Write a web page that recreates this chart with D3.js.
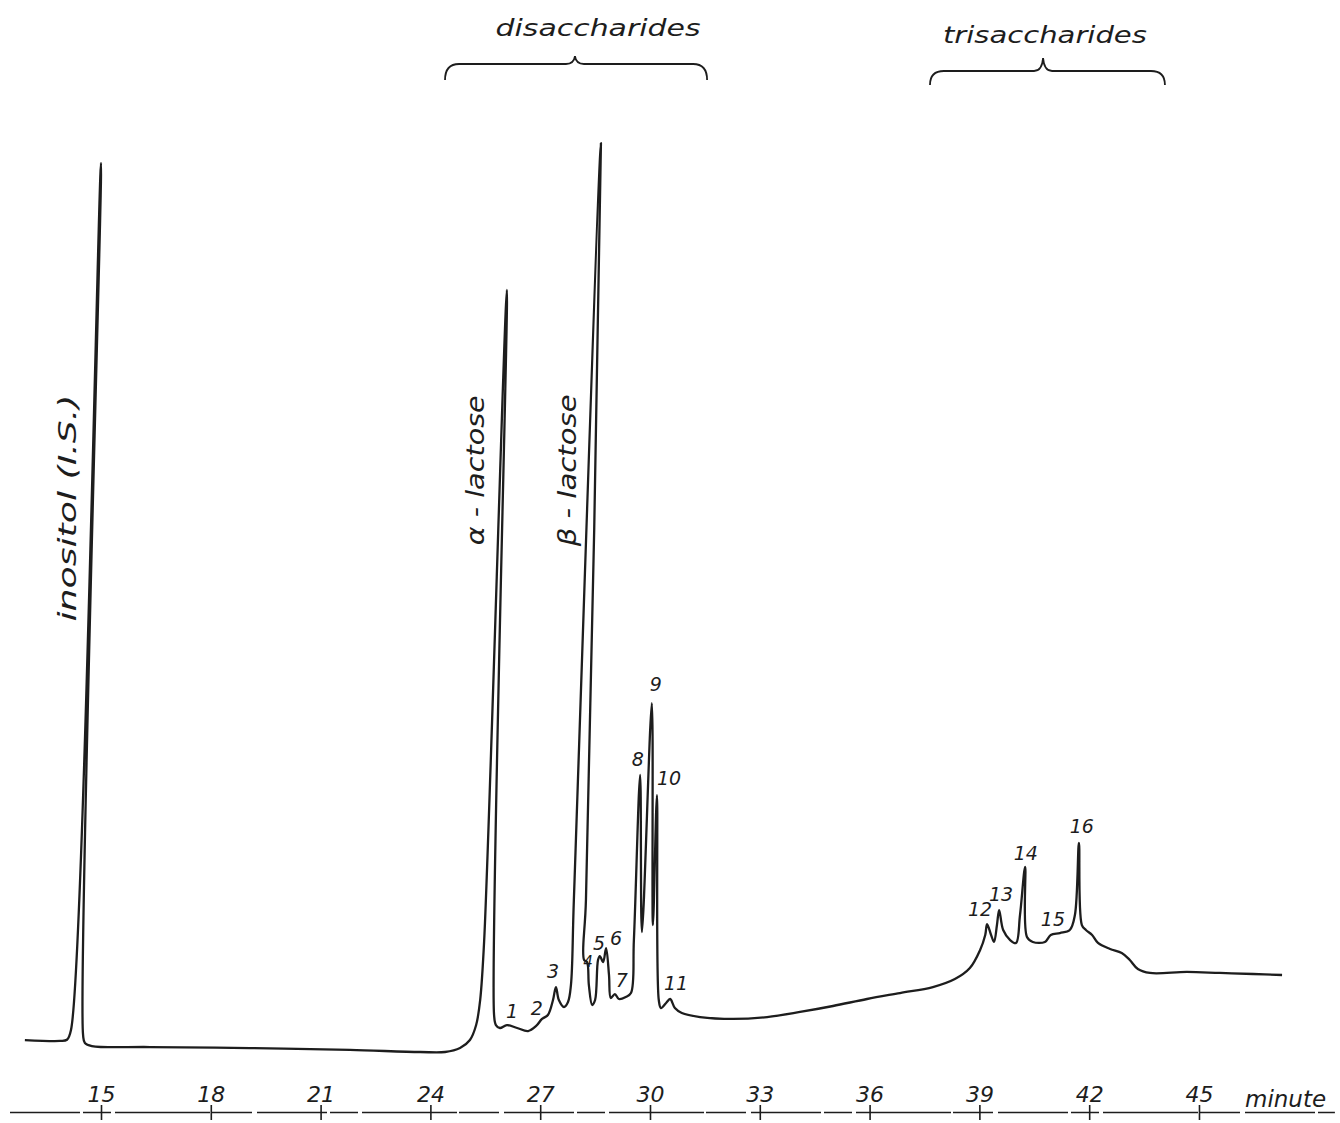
<!DOCTYPE html>
<html>
<head>
<meta charset="utf-8">
<script src="https://cdn.jsdelivr.net/npm/d3@7"></script>
<style>
  html, body { margin: 0; padding: 0; background: #fff; }
  svg text { font-family: "DejaVu Sans", sans-serif; font-style: italic; fill: #1d1d1d; }
</style>
</head>
<body>
<div id="chart"></div>
<script>
// detector trace (minutes vs. arbitrary response)
const traceTime = [
  12.92, 13.88, 14.07, 14.18, 15.0, 14.51, 14.56, 14.75, 16.34, 19.07, 21.8, 23.72,
  24.4, 24.81, 25.08, 25.25, 25.36, 25.47, 26.09, 25.74, 25.79, 25.9, 26.09, 26.37,
  26.67, 26.89, 27.05, 27.21, 27.35, 27.43, 27.51, 27.65, 27.76, 27.84, 27.92, 28.66,
  28.25, 28.2, 28.28, 28.33, 28.42, 28.5, 28.58, 28.63, 28.72, 28.8, 28.88, 28.93,
  29.04, 29.15, 29.34, 29.48, 29.56, 29.73, 29.78, 30.05, 30.08, 30.19, 30.24, 30.3,
  30.44, 30.55, 30.68, 30.87, 31.37, 32.27, 33.2, 34.1, 35.0, 35.93, 36.83, 37.73,
  38.33, 38.74, 39.02, 39.16, 39.21, 39.32, 39.4, 39.48, 39.54, 39.65, 39.84, 40.0,
  40.11, 40.25, 40.3, 40.46, 40.79, 40.95, 41.2, 41.47, 41.61, 41.72, 41.8, 41.91,
  42.08, 42.24, 42.57, 42.89, 43.11, 43.33, 43.66, 44.67, 45.57, 46.48, 47.27
]
const traceSignal = [
  2.17, 2.07, 2.2, 3.26, 97.5, 2.72, 1.85, 1.52, 1.41, 1.3, 1.09, 0.87,
  0.87, 1.3, 2.17, 3.8, 6.52, 13.04, 83.7, 4.89, 3.8, 3.48, 3.8, 3.48,
  3.15, 3.7, 4.46, 4.89, 6.52, 7.93, 6.52, 5.76, 6.3, 8.15, 17.39, 99.67,
  17.39, 10.87, 10.65, 8.15, 5.98, 6.52, 10.87, 11.3, 10.65, 12.17, 9.24, 6.74,
  7.17, 6.63, 6.85, 7.28, 13.04, 30.98, 13.91, 38.8, 14.67, 28.8, 6.52, 5.65,
  6.2, 6.63, 5.65, 5.11, 4.67, 4.46, 4.67, 5.22, 5.87, 6.63, 7.28, 7.93,
  8.8, 10.0, 11.96, 13.59, 14.78, 13.59, 12.83, 14.67, 16.3, 14.13, 13.04, 12.72,
  15.76, 20.98, 13.37, 12.83, 12.83, 13.59, 13.8, 14.13, 15.76, 23.59, 14.67, 14.13,
  13.59, 12.72, 12.07, 11.63, 10.87, 9.89, 9.46, 9.57, 9.46, 9.35, 9.24
]

// numbered peaks
const peakNumbers = ["1", "2", "3", "4", "5", "6", "7", "8", "9", "10", "11", "12", "13", "14", "15", "16"]
const peakLabelTime = [26.23, 26.91, 27.35, 28.31, 28.61, 29.07, 29.23, 29.67, 30.16, 30.52, 30.71, 39.02, 39.59, 40.27, 41.01, 41.8]
const peakLabelSignal = [4.57, 4.89, 8.91, 10.11, 11.96, 12.5, 7.93, 31.96, 40.11, 29.89, 7.61, 15.65, 17.28, 21.74, 14.57, 24.67]

// named peaks (rotated labels)
const compoundNames = ["inositol (I.S.)", "α - lactose", "β - lactose"]
const compoundTime = [14.32, 25.46, 27.98]
const compoundSignal = [60.0, 64.1, 64.1]

// bracketed groups
const groupNames = ["disaccharides", "trisaccharides"]
const groupStart = [24.4, 37.65]
const groupEnd = [31.56, 44.07]
const groupTip = [27.95, 40.74]
const groupLabelTime = [28.58, 40.79]

const tickMinutes = [15, 18, 21, 24, 27, 30, 33, 36, 39, 42, 45]
const axisTitle = "minute"

class Chromatogram {
  constructor() {
    this.width = 1340
    this.height = 1123
    this.axisY = 1112
    this.ink = "#1d1d1d"

    this.svg = d3
      .select("#chart")
      .append("svg")
      .attr("width", this.width)
      .attr("height", this.height)

    this.x = d3.scaleLinear().domain([12.5, 48.7]).range([9.5, 1334.4])
    this.y = d3.scaleLinear().domain([0, 100]).range([1060, 140])

    this.render()
  }

  render() {
    this.drawAxis()
    this.drawTrace()
    this.drawPeakLabels()
    this.drawCompoundLabels()
    this.drawGroups()
  }

  drawAxis() {
    const axis = d3
      .axisTop(this.x)
      .tickValues(tickMinutes)
      .tickSize(7)
      .tickSizeOuter(0)
      .tickPadding(3)
      .tickFormat(d3.format("d"))

    const g = this.svg
      .append("g")
      .attr("transform", `translate(0,${this.axisY})`)
      .call(axis)

    // the scanned baseline is a broken, uneven rule
    g.select(".domain")
      .attr("stroke", this.ink)
      .attr("stroke-width", 1.6)
      .attr("stroke-dasharray", "70 3 28 4 95 2 40 5")
    g.selectAll(".tick line")
      .attr("stroke", this.ink)
      .attr("stroke-width", 1.6)
      .attr("y1", 8)
      .attr("y2", -7)
    g.selectAll(".tick text").style("font-size", "22px")

    this.svg
      .append("text")
      .attr("x", 1245)
      .attr("y", this.axisY - 5)
      .style("font-size", "23px")
      .text(axisTitle)
  }

  drawTrace() {
    const points = traceTime.map((t, i) => [t, traceSignal[i]])
    const line = d3
      .line()
      .x((d) => this.x(d[0]))
      .y((d) => this.y(d[1]))
      .curve(d3.curveCatmullRom.alpha(0.5))

    this.svg
      .append("path")
      .datum(points)
      .attr("d", line)
      .attr("fill", "none")
      .attr("stroke", this.ink)
      .attr("stroke-width", 2.3)
      .attr("stroke-linejoin", "round")
  }

  drawPeakLabels() {
    this.svg
      .selectAll(".peak-label")
      .data(peakNumbers)
      .join("text")
      .attr("class", "peak-label")
      .attr("x", (d, i) => this.x(peakLabelTime[i]))
      .attr("y", (d, i) => this.y(peakLabelSignal[i]))
      .attr("text-anchor", "middle")
      .style("font-size", (d) => (d == "4" ? "15px" : "19px"))
      .text((d) => d)
  }

  drawCompoundLabels() {
    const lengths = [227, 150, 152]
    this.svg
      .selectAll(".compound-label")
      .data(compoundNames)
      .join("text")
      .attr("class", "compound-label")
      .attr(
        "transform",
        (d, i) =>
          `translate(${this.x(compoundTime[i])},${this.y(compoundSignal[i])}) rotate(-90)`
      )
      .attr("text-anchor", "middle")
      .attr("textLength", (d, i) => lengths[i])
      .attr("lengthAdjust", "spacingAndGlyphs")
      .style("font-size", "24px")
      .text((d) => d)
  }

  drawGroups() {
    const bars = [64, 71]
    const tips = [56, 58]
    const ends = [80, 85]
    const labelY = [36, 43]
    const lengths = [205, 204]

    const brace = (i) => {
      const x0 = this.x(groupStart[i])
      const x1 = this.x(groupEnd[i])
      const xm = this.x(groupTip[i])
      const b = bars[i]
      const path = d3.path()
      path.moveTo(x0, ends[i])
      path.quadraticCurveTo(x0, b, x0 + 14, b)
      path.lineTo(xm - 9, b)
      path.quadraticCurveTo(xm - 1, b, xm, tips[i])
      path.quadraticCurveTo(xm + 1, b, xm + 9, b)
      path.lineTo(x1 - 14, b)
      path.quadraticCurveTo(x1, b, x1, ends[i])
      return path.toString()
    }

    this.svg
      .selectAll(".group-brace")
      .data(groupNames)
      .join("path")
      .attr("class", "group-brace")
      .attr("d", (d, i) => brace(i))
      .attr("fill", "none")
      .attr("stroke", this.ink)
      .attr("stroke-width", 1.8)

    this.svg
      .selectAll(".group-label")
      .data(groupNames)
      .join("text")
      .attr("class", "group-label")
      .attr("x", (d, i) => this.x(groupLabelTime[i]))
      .attr("y", (d, i) => labelY[i])
      .attr("text-anchor", "middle")
      .attr("textLength", (d, i) => lengths[i])
      .attr("lengthAdjust", "spacingAndGlyphs")
      .style("font-size", "23px")
      .text((d) => d)
  }
}

new Chromatogram()
</script>
</body>
</html>
